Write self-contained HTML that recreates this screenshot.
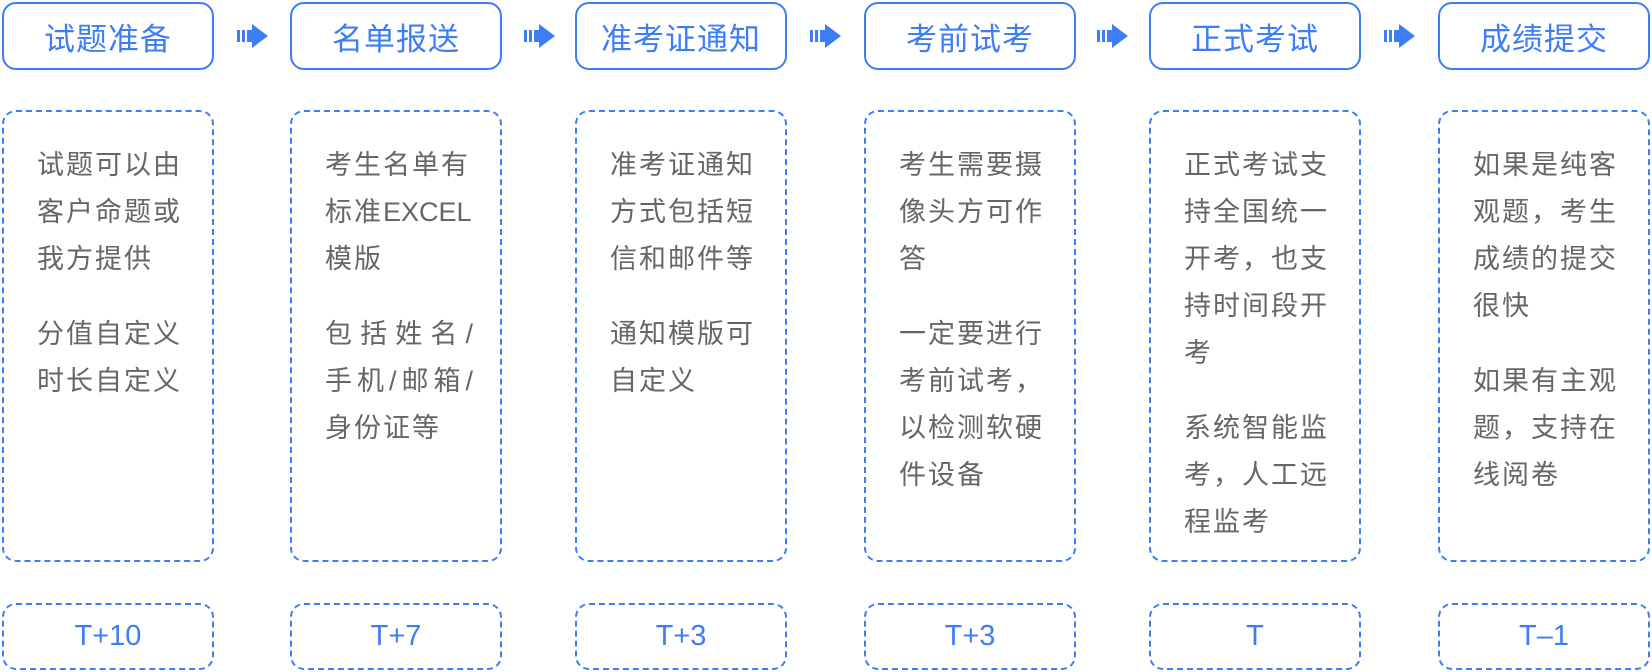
<!DOCTYPE html>
<html><head><meta charset="utf-8"><style>
*{margin:0;padding:0;box-sizing:border-box}
body{width:1652px;height:672px;background:#fff;position:relative;overflow:hidden;font-family:"Liberation Sans","Noto Sans CJK SC",sans-serif}
.t{position:absolute;top:2px;width:212px;height:68px;border:2px solid #3d7ef6;border-radius:14px;color:#3d7ef6;font-size:31px;letter-spacing:1px;display:flex;align-items:center;justify-content:center}
.b{position:absolute;top:110px;width:212px;height:452px;border:2px dashed #3d7ef6;border-radius:14px;color:#666;font-size:27px;letter-spacing:2px;line-height:47px;padding:30px 0 0 33px}
.b p{margin-bottom:28px;white-space:nowrap}
.j{display:block;width:148px;text-align:justify;text-align-last:justify;letter-spacing:0}
.e{letter-spacing:0}
.f{position:absolute;top:603px;width:212px;height:67px;border:2px dashed #3d7ef6;border-radius:14px;color:#3d7ef6;font-size:29px;display:flex;align-items:center;justify-content:center}
.a{position:absolute;top:24px;width:31px;height:24px}
</style></head><body>
<div class="t" style="left:2px">试题准备</div>
<div class="t" style="left:290px">名单报送</div>
<div class="t" style="left:575px">准考证通知</div>
<div class="t" style="left:864px">考前试考</div>
<div class="t" style="left:1149px">正式考试</div>
<div class="t" style="left:1438px">成绩提交</div>

<svg class="a" style="left:237px" viewBox="0 0 31 24"><rect x="0" y="6" width="3" height="12" fill="#3d7ef6"/><rect x="5" y="6" width="3" height="12" fill="#3d7ef6"/><rect x="10" y="6" width="6" height="12" fill="#3d7ef6"/><polygon points="15,0 31,12 15,24" fill="#3d7ef6"/></svg>
<svg class="a" style="left:524px" viewBox="0 0 31 24"><rect x="0" y="6" width="3" height="12" fill="#3d7ef6"/><rect x="5" y="6" width="3" height="12" fill="#3d7ef6"/><rect x="10" y="6" width="6" height="12" fill="#3d7ef6"/><polygon points="15,0 31,12 15,24" fill="#3d7ef6"/></svg>
<svg class="a" style="left:810px" viewBox="0 0 31 24"><rect x="0" y="6" width="3" height="12" fill="#3d7ef6"/><rect x="5" y="6" width="3" height="12" fill="#3d7ef6"/><rect x="10" y="6" width="6" height="12" fill="#3d7ef6"/><polygon points="15,0 31,12 15,24" fill="#3d7ef6"/></svg>
<svg class="a" style="left:1097px" viewBox="0 0 31 24"><rect x="0" y="6" width="3" height="12" fill="#3d7ef6"/><rect x="5" y="6" width="3" height="12" fill="#3d7ef6"/><rect x="10" y="6" width="6" height="12" fill="#3d7ef6"/><polygon points="15,0 31,12 15,24" fill="#3d7ef6"/></svg>
<svg class="a" style="left:1384px" viewBox="0 0 31 24"><rect x="0" y="6" width="3" height="12" fill="#3d7ef6"/><rect x="5" y="6" width="3" height="12" fill="#3d7ef6"/><rect x="10" y="6" width="6" height="12" fill="#3d7ef6"/><polygon points="15,0 31,12 15,24" fill="#3d7ef6"/></svg>

<div class="b" style="left:2px"><p>试题可以由<br>客户命题或<br>我方提供</p><p>分值自定义<br>时长自定义</p></div>
<div class="b" style="left:290px"><p>考生名单有<br>标准<span class="e">EXCEL</span><br>模版</p><p><span class="j">包括姓名/</span><span class="j">手机/邮箱/</span>身份证等</p></div>
<div class="b" style="left:575px"><p>准考证通知<br>方式包括短<br>信和邮件等</p><p>通知模版可<br>自定义</p></div>
<div class="b" style="left:864px"><p>考生需要摄<br>像头方可作<br>答</p><p>一定要进行<br>考前试考，<br>以检测软硬<br>件设备</p></div>
<div class="b" style="left:1149px"><p>正式考试支<br>持全国统一<br>开考，也支<br>持时间段开<br>考</p><p>系统智能监<br>考，人工远<br>程监考</p></div>
<div class="b" style="left:1438px"><p>如果是纯客<br>观题，考生<br>成绩的提交<br>很快</p><p>如果有主观<br>题，支持在<br>线阅卷</p></div>

<div class="f" style="left:2px">T+10</div>
<div class="f" style="left:290px">T+7</div>
<div class="f" style="left:575px">T+3</div>
<div class="f" style="left:864px">T+3</div>
<div class="f" style="left:1149px">T</div>
<div class="f" style="left:1438px">T–1</div>
</body></html>
